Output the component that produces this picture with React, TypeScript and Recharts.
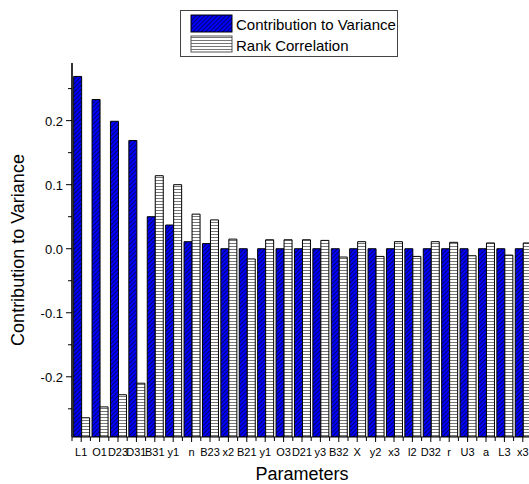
import React from "react";
import { BarChart, Bar, XAxis, YAxis } from "recharts";

const labels = ["L1","O1","D23","D31","B31","y1","n","B23","x2","B21","y1","O3","D21","y3","B32","X","y2","x3","l2","D32","r","U3","a","L3","x3"];
const contribution = [0.269,0.233,0.199,0.169,0.050,0.037,0.011,0.008,0,0,0,0,0,0,0,0,0,0,0,0,0,0,0,0,0];
const rankCorrelation = [-0.264,-0.247,-0.228,-0.210,0.114,0.100,0.054,0.045,0.015,-0.016,0.014,0.014,0.014,0.013,-0.013,0.011,-0.012,0.011,-0.012,0.011,0.010,-0.011,0.009,-0.010,0.009];
const yTicks = [-0.25,-0.2,-0.15,-0.1,-0.05,0,0.05,0.1,0.15,0.2,0.25];
const seriesNames = ["Contribution to Variance", "Rank Correlation"];
const Y_MIN = -0.294;
const Y_MAX = 0.29;

const data = labels.map((name, i) => ({
  id: i,
  name,
  cv: [Y_MIN, contribution[i]],
  rc: [Y_MIN, rankCorrelation[i]],
}));

const W = 535;
const H = 484;
const X_AXIS_H = 30;
const margin = { top: 63, right: 3, bottom: 484 - 437 - X_AXIS_H, left: 0 };
const yAxisWidth = 72;
const plotWidth = W - margin.left - margin.right - yAxisWidth;
const band = plotWidth / labels.length;
const font = "Arial, 'Liberation Sans', sans-serif";

const XTick = (props: any) => {
  const { x, y, payload } = props;
  const label = labels[payload.value];
  return (
    <g>
      <line x1={x} y1={y} x2={x} y2={y + 5} stroke="#000" strokeWidth={1} />
      <line x1={x - band / 2} y1={y} x2={x - band / 2} y2={y + 4} stroke="#000" strokeWidth={1} />
      {payload.index === labels.length - 1 && (
        <line x1={x + band / 2} y1={y} x2={x + band / 2} y2={y + 4} stroke="#000" strokeWidth={1} />
      )}
      <text x={x} y={y + 19} textAnchor="middle" fontSize={11} fontFamily={font} fill="#000">
        {label}
      </text>
    </g>
  );
};

const YTick = (props: any) => {
  const { x, y, payload } = props;
  const v = payload.value;
  const major = Math.abs(Math.round(v * 10) - v * 10) < 1e-6;
  const showLabel = major && Math.abs(v) < 0.25;
  return (
    <g>
      <line x1={x - (major ? 6 : 4)} y1={y} x2={x} y2={y} stroke="#000" strokeWidth={1} />
      {showLabel && (
        <text x={x - 9} y={y + 5} textAnchor="end" fontSize={13} fontFamily={font} fill="#000">
          {v.toFixed(1)}
        </text>
      )}
    </g>
  );
};

const LegendBox = () => (
  <svg width={218} height={47} style={{ position: "absolute", left: 180, top: 10 }}>
    <rect x={0.5} y={0.5} width={217} height={46} fill="#fff" stroke="#444" strokeWidth={1} />
    <rect x={11} y={5} width={41} height={17} fill="url(#blueHatch)" stroke="#000" strokeWidth={1} />
    <rect x={11} y={26} width={41} height={16} fill="url(#whiteHatch)" stroke="#555" strokeWidth={1} />
    <text x={56} y={20} fontSize={15} fontFamily={font} fill="#000">{seriesNames[0]}</text>
    <text x={56} y={41} fontSize={15} fontFamily={font} fill="#000">{seriesNames[1]}</text>
  </svg>
);

export default function App() {
  return (
    <div style={{ width: 529, height: 484, overflow: "hidden", position: "relative" }}>
      <style>{`body{margin:0;overflow:hidden;}`}</style>
      <BarChart
        width={W}
        height={H}
        data={data}
        margin={margin}
        barCategoryGap="9%"
        barGap={0}
      >
        <defs>
          <pattern id="blueHatch" width={3} height={3} patternUnits="userSpaceOnUse" patternTransform="rotate(45)">
            <rect x={0} y={0} width={3} height={3} fill="#0000ff" />
            <line x1={0.5} y1={0} x2={0.5} y2={3} stroke="#000070" strokeWidth={1} />
          </pattern>
          <pattern id="whiteHatch" width={4} height={3} patternUnits="userSpaceOnUse">
            <rect x={0} y={0} width={4} height={3} fill="#ffffff" />
            <line x1={0} y1={0.5} x2={4} y2={0.5} stroke="#777" strokeWidth={1} />
          </pattern>
        </defs>
        <XAxis
          dataKey="id"
          type="category"
          height={X_AXIS_H}
          tick={<XTick />}
          tickLine={false}
          tickSize={0}
          tickMargin={0}
          interval={0}
          axisLine={{ stroke: "#000", strokeWidth: 1 }}
          label={{
            content: (p: any) => {
              const vb = p.viewBox;
              return (
                <text x={vb.x + vb.width / 2} y={480} textAnchor="middle" fontSize={18} fontFamily={font} fill="#000">
                  Parameters
                </text>
              );
            },
          }}
        />
        <YAxis
          width={yAxisWidth}
          type="number"
          domain={[Y_MIN, Y_MAX]}
          ticks={yTicks}
          allowDataOverflow
          tick={<YTick />}
          tickLine={false}
          tickSize={0}
          tickMargin={0}
          axisLine={{ stroke: "#333", strokeWidth: 2 }}
          label={{
            content: (p: any) => {
              const vb = p.viewBox;
              const cy = vb.y + vb.height / 2;
              return (
                <text x={24} y={cy} transform={`rotate(-90 24 ${cy})`} textAnchor="middle" fontSize={18} fontFamily={font} fill="#000">
                  Contribution to Variance
                </text>
              );
            },
          }}
        />
        <Bar dataKey="cv" name={seriesNames[0]} fill="url(#blueHatch)" stroke="#000" strokeWidth={1} isAnimationActive={false} />
        <Bar dataKey="rc" name={seriesNames[1]} fill="url(#whiteHatch)" stroke="#000" strokeWidth={1} isAnimationActive={false} />
      </BarChart>
      <LegendBox />
    </div>
  );
}
